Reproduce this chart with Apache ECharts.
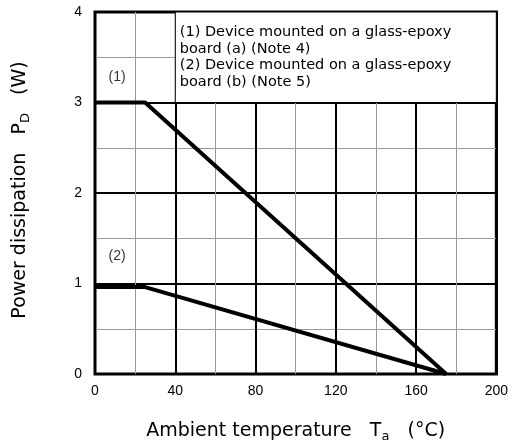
<!DOCTYPE html>
<html><head><meta charset="utf-8">
<script src="https://cdn.jsdelivr.net/npm/echarts@6/dist/echarts.min.js"></script>
<style>html,body{margin:0;padding:0;background:#fff}#c{width:511px;height:448px}</style>
</head><body><div id="c"></div>
<script>
var xTicks = [0, 40, 80, 120, 160, 200];
var yTicks = [0, 1, 2, 3, 4];
var curve1 = [[0, 3], [25, 3], [175, 0]];
var curve2 = [[0, 0.96], [25, 0.96], [175, 0]];
var curveLabels = [[11, 3.28, '(1)'], [11, 1.3, '(2)']];
var noteLines = ['(1) Device mounted on a glass-epoxy', 'board (a) (Note 4)', '(2) Device mounted on a glass-epoxy', 'board (b) (Note 5)'];
var noteBox = [[40, 3], [200, 4]];

var font = 'Arial, "Liberation Sans", sans-serif';
var wide = '"DejaVu Sans", sans-serif';
var chart = echarts.init(document.getElementById('c'));
chart.setOption({
  animation: false,
  backgroundColor: '#fff',
  grid: {left: 95, right: 11, top: 12, bottom: 72, show: true, borderColor: '#000', borderWidth: 3, backgroundColor: 'transparent'},
  xAxis: {
    type: 'value', min: xTicks[0], max: xTicks[xTicks.length - 1], interval: 40,
    axisLine: {show: false}, axisTick: {show: false},
    axisLabel: {color: '#000', fontSize: 14, fontFamily: font, margin: 10},
    splitLine: {show: true, lineStyle: {color: '#000', width: 2}},
    minorTick: {show: false, splitNumber: 2},
    minorSplitLine: {show: true, lineStyle: {color: '#999', width: 1}},
    name: 'Ambient temperature   T{sub|a}   (°C)', nameLocation: 'middle', nameGap: 46,
    nameTextStyle: {color: '#000', fontSize: 19, fontFamily: wide, rich: {sub: {fontSize: 13, verticalAlign: 'bottom', padding: [10, 0, 0, 0], fontFamily: wide, color: '#000'}}}
  },
  yAxis: {
    type: 'value', min: yTicks[0], max: yTicks[yTicks.length - 1], interval: 1,
    axisLine: {show: false}, axisTick: {show: false},
    axisLabel: {color: '#000', fontSize: 14, fontFamily: font, margin: 13},
    splitLine: {show: true, lineStyle: {color: '#000', width: 2}},
    minorTick: {show: false, splitNumber: 2},
    minorSplitLine: {show: true, lineStyle: {color: '#999', width: 1}},
    name: ' Power dissipation   P{sub|D}   (W)', nameLocation: 'middle', nameGap: 63, nameRotate: 90,
    nameTextStyle: {color: '#000', fontSize: 19, fontFamily: wide, rich: {sub: {fontSize: 13, verticalAlign: 'bottom', padding: [10, 0, 0, 0], fontFamily: wide, color: '#000'}}}
  },
  series: [
    {
      type: 'line', data: curve1, symbol: 'none', lineStyle: {color: '#000', width: 4}, z: 5,
      markArea: {
        silent: true,
        itemStyle: {color: '#fff', borderColor: '#000', borderWidth: 1},
        label: {show: true, position: 'insideLeft', distance: 5, color: '#000', fontSize: 14.5, lineHeight: 16.7, fontFamily: wide, formatter: noteLines.join('\n')},
        emphasis: {disabled: true},
        data: [[{xAxis: noteBox[0][0], yAxis: noteBox[0][1]}, {xAxis: noteBox[1][0], yAxis: noteBox[1][1]}]]
      }
    },
    {type: 'line', data: curve2, symbol: 'none', lineStyle: {color: '#000', width: 4}, z: 5},
    {
      type: 'scatter', symbolSize: 0, silent: true,
      data: curveLabels.map(function (d) { return {value: [d[0], d[1]], name: d[2]}; }),
      label: {show: true, position: 'inside', formatter: '{b}', color: '#000', fontSize: 14, fontFamily: font}
    }
  ]
});
</script></body></html>
